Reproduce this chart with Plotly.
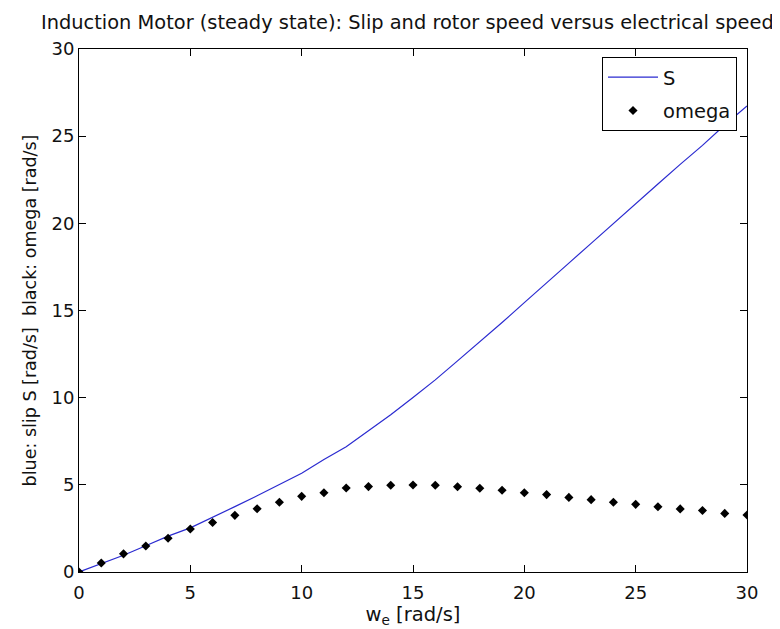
import plotly.graph_objects as go

we = list(range(0, 31))
omega = [0, 0.52, 1.04, 1.49, 1.94, 2.47, 2.84, 3.25, 3.63, 4.0, 4.34, 4.55, 4.82, 4.9, 4.98,
         4.99, 4.98, 4.89, 4.8, 4.69, 4.55, 4.44, 4.28, 4.15, 4.0, 3.88, 3.74, 3.62, 3.53, 3.36, 3.27]
S = [0, 0.48, 0.96, 1.51, 2.06, 2.53, 3.16, 3.75, 4.37, 5.0, 5.66, 6.45, 7.18, 8.1, 9.02,
     10.01, 11.02, 12.11, 13.2, 14.31, 15.45, 16.56, 17.72, 18.85, 20.0, 21.12, 22.26, 23.38,
     24.47, 25.64, 26.73]
tick_vals = [0, 5, 10, 15, 20, 25, 30]

FONT = "DejaVu Sans, Liberation Sans, Arial, sans-serif"
NB = "\u00a0"
TXT = "#111111"

fig = go.Figure()
fig.add_trace(go.Scatter(x=we, y=S, mode="lines", name="S", legendgroup="a",
                         line=dict(color="#2b2bd0", width=1.2)))
fig.add_trace(go.Scatter(x=we, y=omega, mode="markers", name="omega", legendgroup="b",
                         marker=dict(symbol="diamond", size=7, color="black")))

axis_common = dict(showline=True, linecolor="black", linewidth=1, mirror="ticks",
                   ticks="inside", ticklen=7, tickcolor="black", showgrid=False,
                   zeroline=False, tickvals=tick_vals, automargin=False,
                   tickfont=dict(family=FONT, size=18, color=TXT))

ylabel = NB * 8 + "blue: slip S [rad/s]" + NB * 2 + "black: omega [rad/s]"

fig.update_layout(
    width=780, height=629,
    margin=dict(l=71, r=41, t=41, b=65),
    paper_bgcolor="white", plot_bgcolor="white",
    font=dict(family=FONT, size=18, color=TXT),
    title=dict(text="Induction Motor (steady state): Slip and rotor speed versus electrical speed",
               x=33 / 780, xref="container", xanchor="left",
               y=1 - 14 / 629, yref="container", yanchor="middle",
               font=dict(family=FONT, size=19.4, color=TXT)),
    xaxis=dict(range=[0, 30], ticklabelstandoff=4,
               title=dict(text="w<sub>e</sub> [rad/s]", standoff=4,
                          font=dict(family=FONT, size=19.5, color=TXT)),
               **axis_common),
    yaxis=dict(range=[0, 30],
               title=dict(text=ylabel, standoff=10,
                          font=dict(family=FONT, size=17.5, color=TXT)),
               **axis_common),
    showlegend=True,
    legend=dict(x=(594 - 71) / 668, y=(564 - 49) / 523, xanchor="left", yanchor="top",
                bordercolor="black", borderwidth=1, bgcolor="white",
                itemwidth=50, tracegroupgap=5,
                font=dict(family=FONT, size=19.5, color=TXT)),
)

fig.write_html("out.html")
